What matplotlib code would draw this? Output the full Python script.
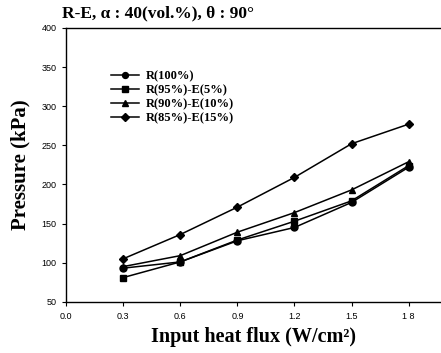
import matplotlib
matplotlib.use('Agg')
import matplotlib.pyplot as plt

heat_flux = [0.3, 0.6, 0.9, 1.2, 1.5, 1.8]
r100 = [93, 101, 128, 145, 177, 222]
r95_e5 = [81, 101, 129, 153, 179, 224]
r90_e10 = [95, 109, 139, 164, 193, 229]
r85_e15 = [105, 136, 171, 209, 252, 277]

labels = ['R(100%)', 'R(95%)-E(5%)', 'R(90%)-E(10%)', 'R(85%)-E(15%)']
markers = ['o', 's', '^', 'D']
series = [r100, r95_e5, r90_e10, r85_e15]

serif = 'Liberation Serif'
sans = 'Liberation Sans'

fig = plt.figure(figsize=(4.41, 3.53), dpi=100)
ax = fig.add_axes([0.150, 0.145, 0.85, 0.776])

for vals, m, lab in zip(series, markers, labels):
    ms = 4.5 if m == 'D' else 5
    ax.plot(heat_flux, vals, color='black', marker=m, markersize=ms,
            linewidth=1.1, label=lab)

ax.set_xlim(0, 1.97)
ax.set_ylim(50, 400)
ax.set_xticks([0.0, 0.3, 0.6, 0.9, 1.2, 1.5, 1.8])
ax.set_xticklabels(['0.0', '0.3', '0.6', '0.9', '1.2', '1.5', '1 8'])
ax.set_yticks(range(50, 401, 50))
ax.spines['right'].set_visible(False)
for s in ['left', 'bottom', 'top']:
    ax.spines[s].set_linewidth(1.0)
ax.tick_params(direction='out', length=3, width=0.8, labelsize=6.5, pad=4)
for t in ax.get_xticklabels() + ax.get_yticklabels():
    t.set_fontfamily(sans)

ax.set_xlabel('Input heat flux (W/cm\u00b2)', fontfamily=serif,
              fontweight='bold', fontsize=14.5, labelpad=5)
ax.set_ylabel('Pressure (kPa)', fontfamily=serif, fontweight='bold',
              fontsize=15, labelpad=8)
fig.text(0.14, 0.963, 'R-E, \u03b1 : 40(vol.%), \u03b8 : 90\u00b0',
         fontfamily=serif, fontweight='bold', fontsize=12.5, va='center')

leg = ax.legend(loc='upper left', bbox_to_anchor=(0.09, 0.885), frameon=False,
                prop={'family': serif, 'weight': 'bold', 'size': 9},
                handlelength=2.2, labelspacing=0.15, handletextpad=0.6,
                markerscale=0.85)

fig.savefig('out.png', dpi=100)
